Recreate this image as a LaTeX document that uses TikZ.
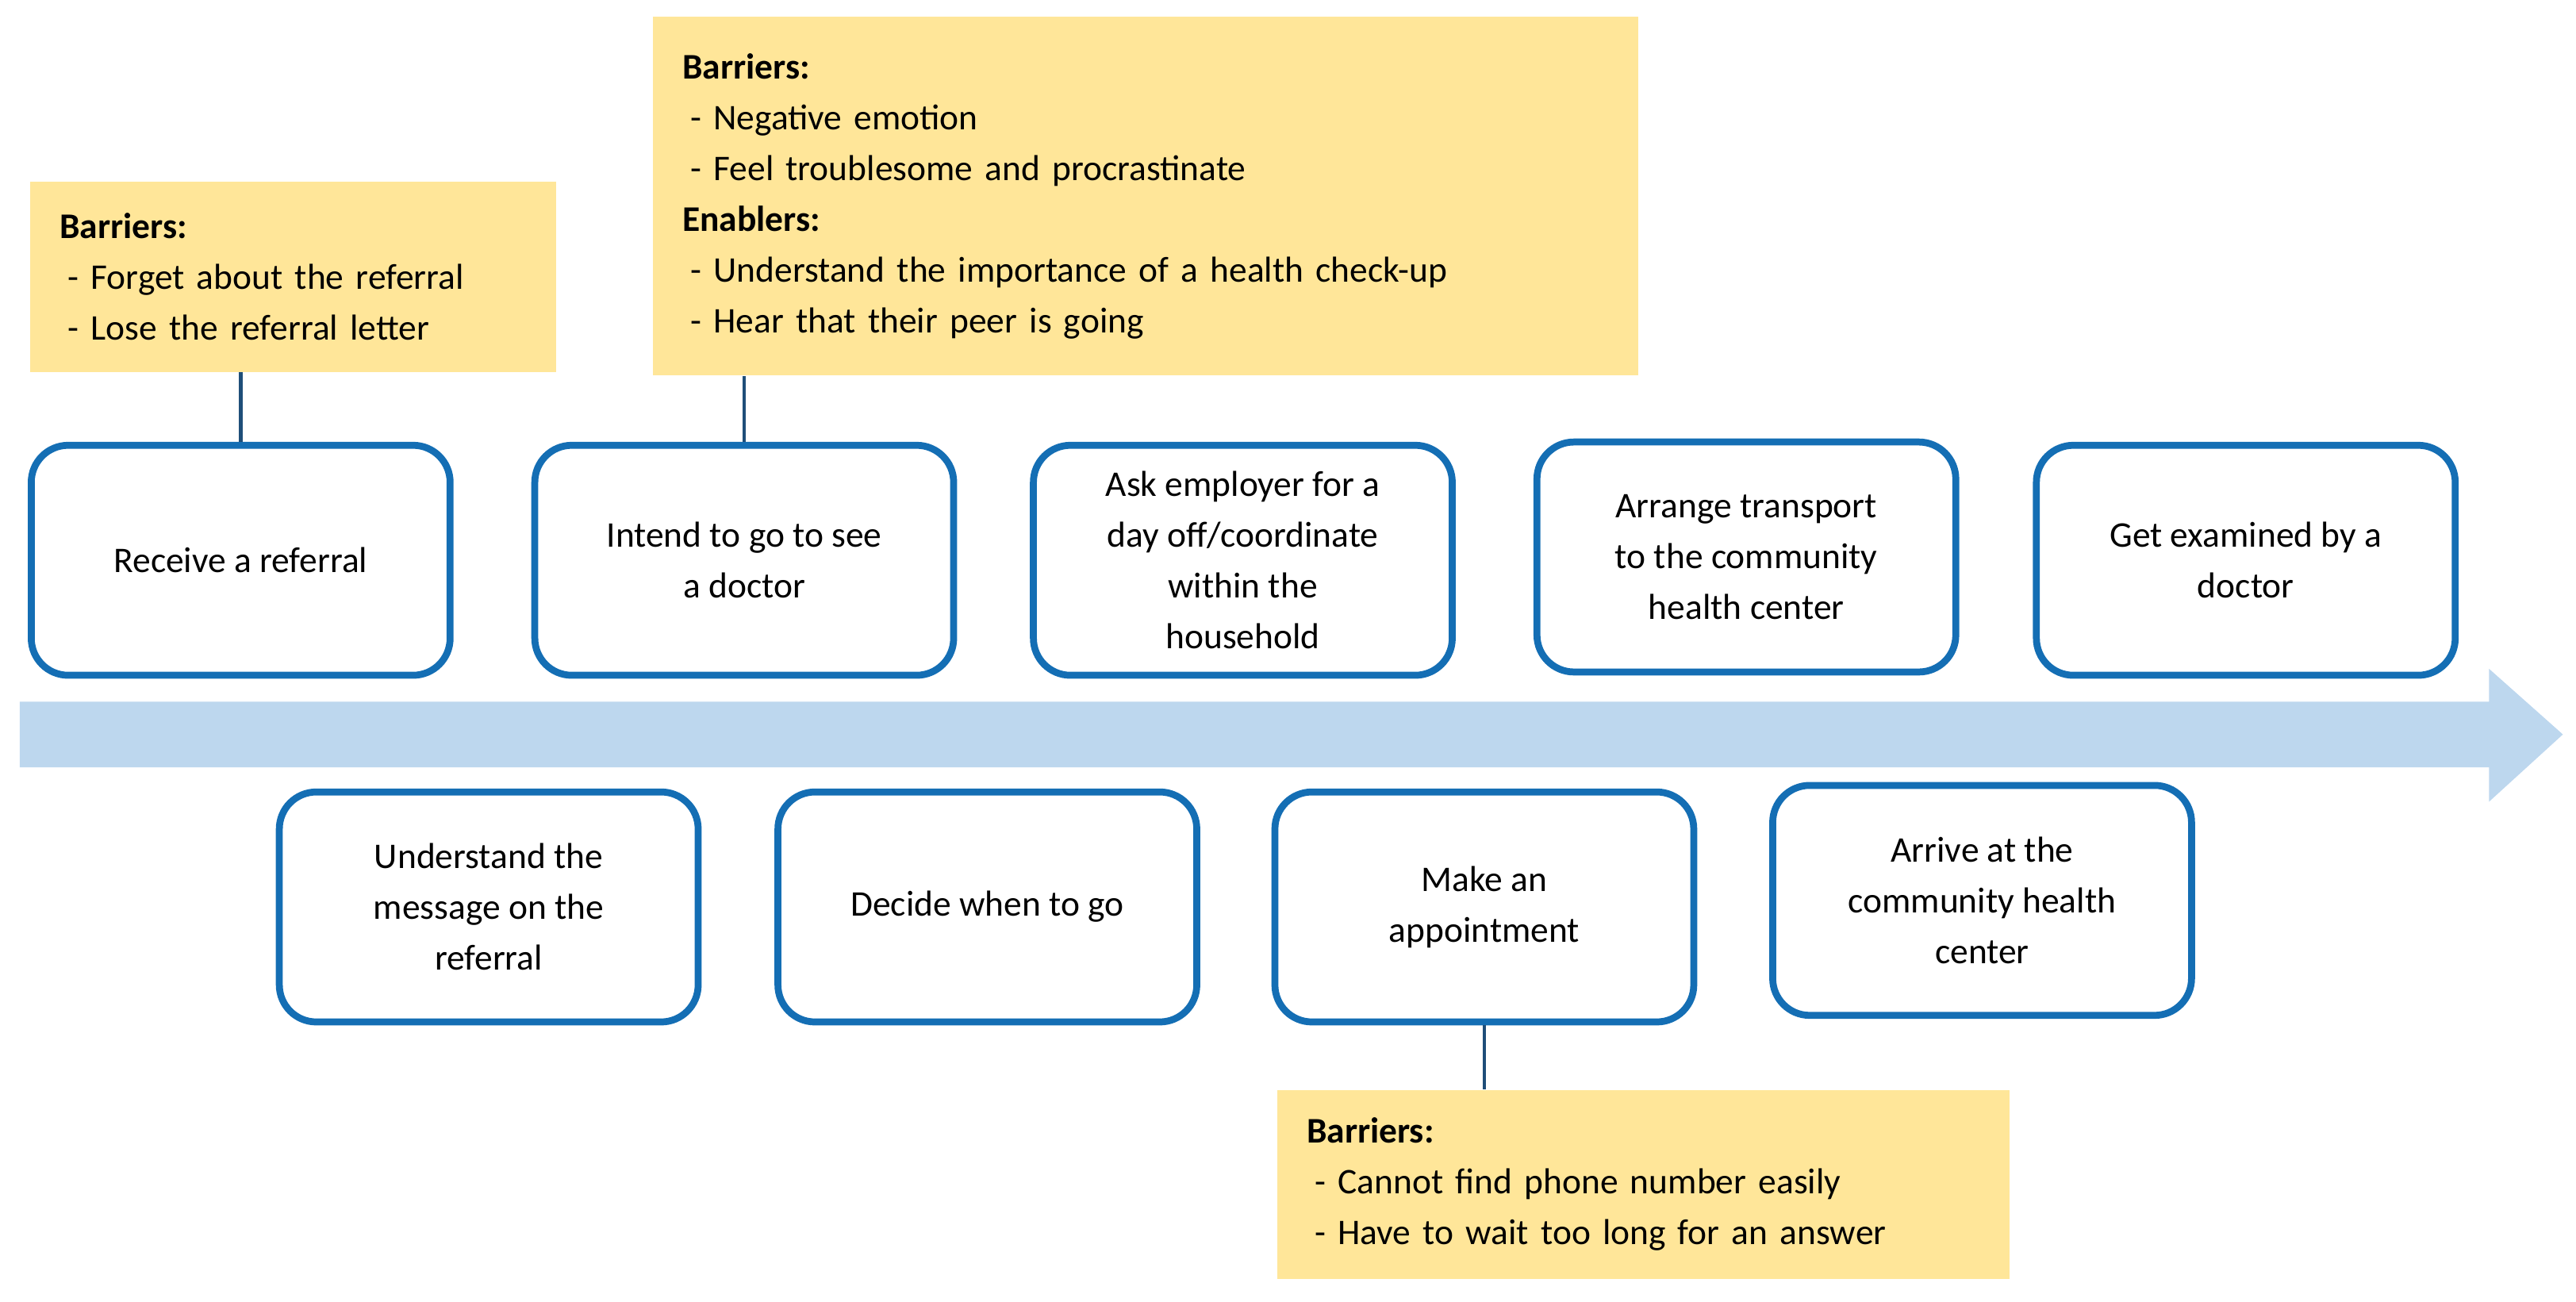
\documentclass[tikz,border=0pt]{standalone}
\usepackage{fontspec}
\setmainfont{Carlito}
\definecolor{stepblue}{RGB}{20,110,180}
\definecolor{notey}{RGB}{255,230,153}
\definecolor{arrowb}{RGB}{189,215,238}
\definecolor{connb}{RGB}{31,78,121}
\begin{document}
\begin{tikzpicture}[x=0.02cm,y=-0.02cm,
  stepbox/.style={draw=stepblue, line width=2.4pt, rounded corners=0.45cm, fill=white, minimum width=5.1cm, minimum height=2.8cm, align=center, font=\fontsize{12.5}{17.6}\selectfont, inner sep=2pt},
  note/.style={fill=notey, anchor=north west, align=left, font=\fontsize{12.5}{17.6}\selectfont, inner xsep=0.36cm, inner ysep=0pt},
  conn/.style={draw=connb, line width=1.3pt}]
\useasboundingbox (0,0) rectangle (1568,792);
% arrow
\fill[arrowb] (12,427) -- (1515,427) -- (1515,407) -- (1560,447) -- (1515,488) -- (1515,467) -- (12,467) -- cycle;
% notes
\node[note, minimum width=6.4cm, minimum height=2.32cm, text width=5.68cm] (n1) at (18,110) {\textbf{Barriers:}\\\hspace*{0.1cm}- Forget about the referral\\\hspace*{0.1cm}- Lose the referral letter};
\node[note, minimum width=12cm, minimum height=4.36cm, text width=11.28cm] (n2) at (397,10) {\textbf{Barriers:}\\\hspace*{0.1cm}- Negative emotion\\\hspace*{0.1cm}- Feel troublesome and procrastinate\\\textbf{Enablers:}\\\hspace*{0.1cm}- Understand the importance of a health check-up\\\hspace*{0.1cm}- Hear that their peer is going};
\node[note, minimum width=8.92cm, minimum height=2.3cm, text width=8.2cm] (n3) at (777,663) {\textbf{Barriers:}\\\hspace*{0.1cm}- Cannot find phone number easily\\\hspace*{0.1cm}- Have to wait too long for an answer};
% steps
\node[stepbox] (a) at (146.5,341) {Receive a referral};
\node[stepbox] (b) at (453,341) {Intend to go to see\\a doctor};
\node[stepbox] (c) at (756.5,341) {Ask employer for a\\day off/coordinate\\within the\\household};
\node[stepbox] (d) at (1063,339) {Arrange transport\\to the community\\health center};
\node[stepbox] (e) at (1367,341) {Get examined by a\\doctor};
\node[stepbox] (f) at (297.5,552) {Understand the\\message on the\\referral};
\node[stepbox] (g) at (601,552) {Decide when to go};
\node[stepbox] (h) at (903.5,552) {Make an\\appointment};
\node[stepbox] (i) at (1206.5,548) {Arrive at the\\community health\\center};
% connectors
\draw[conn] (a.north) -- (a.north |- n1.south);
\draw[conn] (b.north) -- (b.north |- n2.south);
\draw[conn] (h.south) -- (h.south |- n3.north);
\end{tikzpicture}
\end{document}
